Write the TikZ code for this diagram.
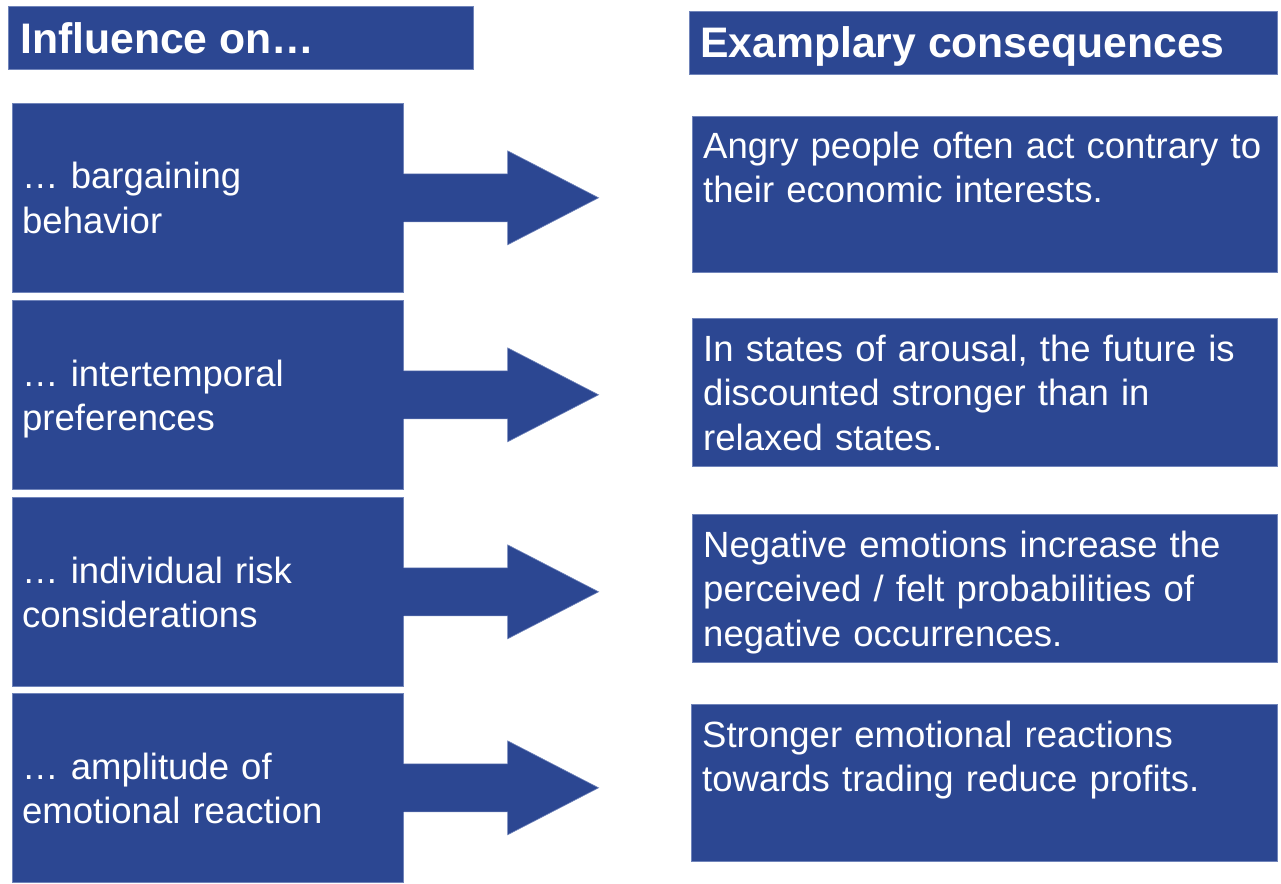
\documentclass[tikz,border=0pt]{standalone}
\usepackage{fontspec}
\setmainfont{Liberation Sans}
\usetikzlibrary{calc}
\definecolor{boxblue}{RGB}{44,71,146}
\definecolor{edgeblue}{RGB}{112,132,186}
\begin{document}
\begin{tikzpicture}[x=1pt,y=-1pt,
  bluebox/.style={fill=boxblue, draw=edgeblue, line width=0.6pt, inner sep=0pt, anchor=north west},
  bodytxt/.style={text=white, font=\fontsize{36.5}{44.5}\selectfont, align=left, inner sep=0pt, anchor=base west, text width=#1},
  bodytxt/.default=570pt,
  headtxt/.style={text=white, font=\bfseries\fontsize{42.7}{50}\selectfont, inner sep=0pt, anchor=base west},
  arrowfill/.style={fill=boxblue},
  arrowedge/.style={draw=edgeblue, line width=0.6pt}]
\useasboundingbox (0,0) rectangle (1281,883);

% headers
\node[bluebox, minimum width=465pt, minimum height=63pt] (H1) at (8,6) {};
\node[bluebox, minimum width=588pt, minimum height=63pt] (H2) at (689,11) {};
\node[headtxt] (H1t) at (20,53) {Influence on…};
\node[headtxt] (H2t) at (700,58) {Examplary consequences};

% left boxes
\node[bluebox, minimum width=391pt, minimum height=189pt] (L1) at (12,103) {};
\node[bluebox, minimum width=391pt, minimum height=189pt] (L2) at (12,300) {};
\node[bluebox, minimum width=391pt, minimum height=189pt] (L3) at (12,497) {};
\node[bluebox, minimum width=391pt, minimum height=189pt] (L4) at (12,693) {};

\node[bodytxt=380pt] (L1t) at (22,188.5) {… bargaining\\behavior};
\node[bodytxt=380pt] (L2t) at (22,386) {… intertemporal\\preferences};
\node[bodytxt=380pt] (L3t) at (22,583) {… individual risk\\considerations};
\node[bodytxt=380pt] (L4t) at (22,779) {… amplitude of\\emotional reaction};

% right boxes
\node[bluebox, minimum width=585pt, minimum height=156pt] (R1) at (692,116) {};
\node[bluebox, minimum width=585pt, minimum height=148pt] (R2) at (692,318) {};
\node[bluebox, minimum width=585pt, minimum height=148pt] (R3) at (692,514) {};
\node[bluebox, minimum width=586pt, minimum height=157pt] (R4) at (691,704) {};

\node[bodytxt] (R1t) at (703,158) {Angry people often act contrary to\\their economic interests.};
\node[bodytxt] (R2t) at (703,361) {In states of arousal, the future is\\discounted stronger than in\\relaxed states.};
\node[bodytxt] (R3t) at (703,557) {Negative emotions increase the\\perceived / felt probabilities of\\negative occurrences.};
\node[bodytxt] (R4t) at (702,747) {Stronger emotional reactions\\towards trading reduce profits.};

% block arrows (joined to the left boxes)
\foreach \n in {L1,L2,L3,L4}{
  \fill[arrowfill] ($(\n.east)+(-1.5,-24)$) -- ++(105.5,0) -- ++(0,-23)
     -- ($(\n.east)+(195,0)$) -- ++(-91,47) -- ++(0,-23) -- ++(-105.5,0) -- cycle;
  \draw[arrowedge] ($(\n.east)+(0.3,-24)$) -- ++(103.7,0) -- ++(0,-23)
     -- ($(\n.east)+(195,0)$) -- ++(-91,47) -- ++(0,-23) -- ++(-103.7,0);
}
\end{tikzpicture}
\end{document}
